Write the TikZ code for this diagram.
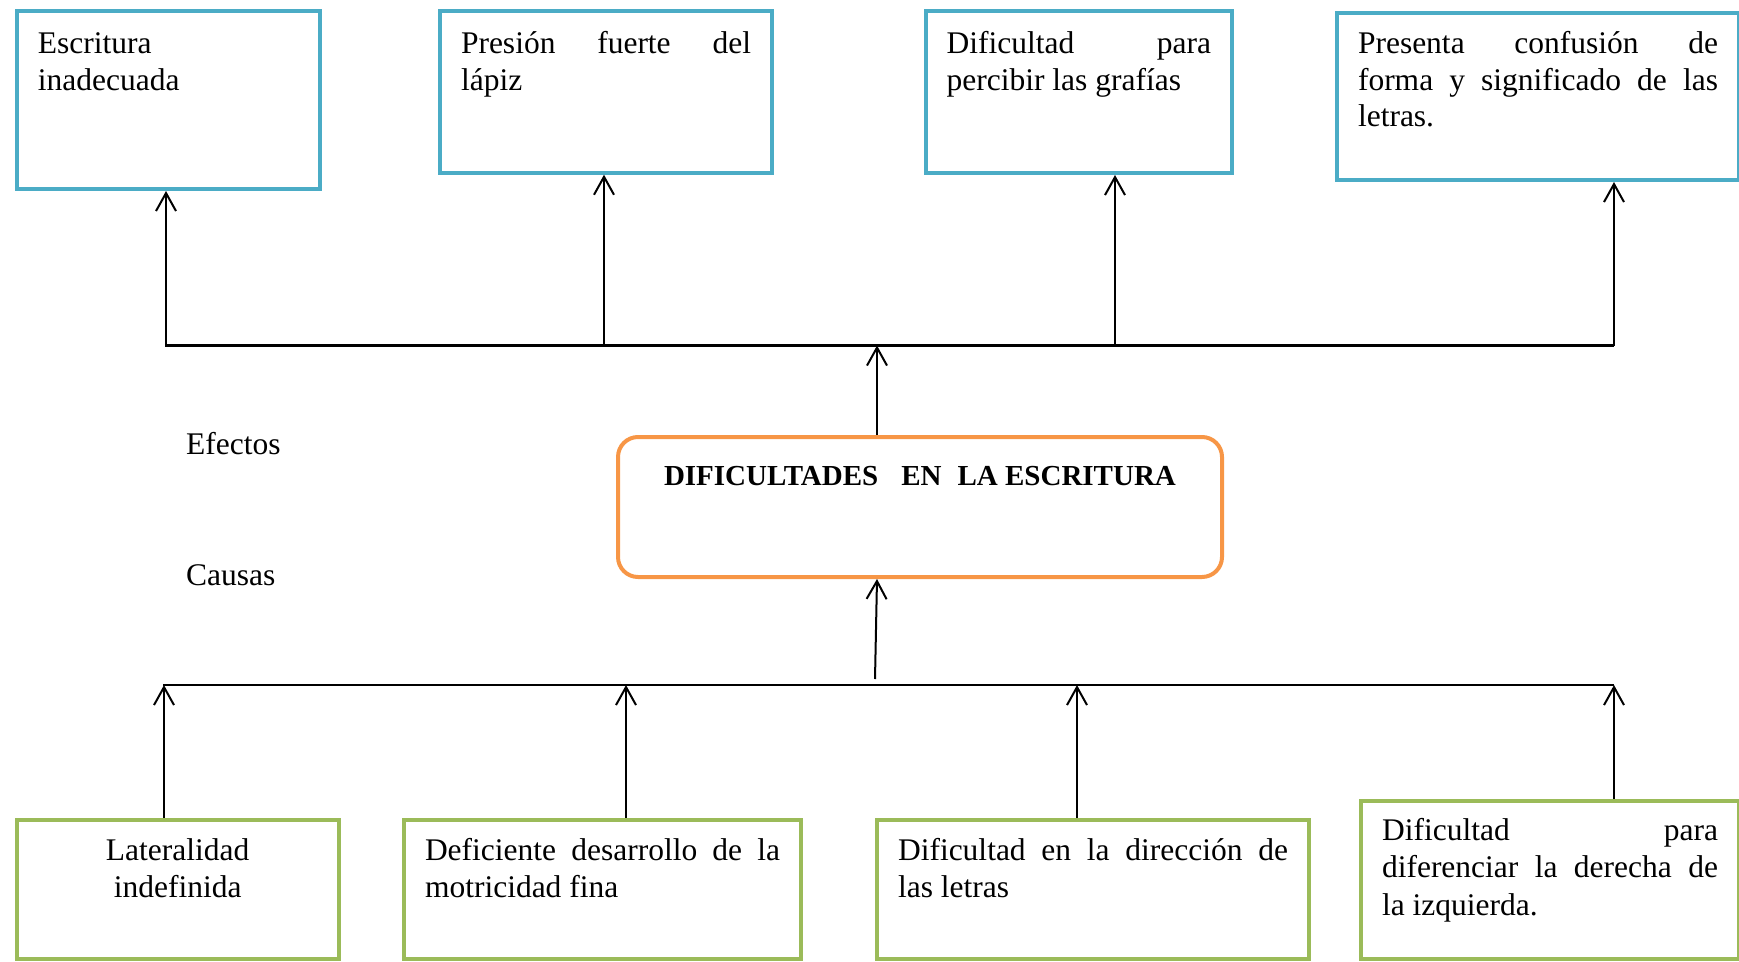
\documentclass[tikz,border=0pt]{standalone}
\usepackage{fontspec}
\setmainfont{Liberation Serif}
\usetikzlibrary{arrows.meta}
\definecolor{boxblue}{HTML}{4BACC6}
\definecolor{boxorange}{HTML}{F79646}
\definecolor{boxgreen}{HTML}{9BBB59}
\newcommand\toptext[3]{\parbox[t][#2pt][t]{#1pt}{\fontsize{31.5}{36.5}\selectfont\strut #3}}
\newcommand\bottext[3]{\parbox[t][#2pt][t]{#1pt}{\fontsize{31.5}{37.5}\selectfont\strut #3}}
\begin{document}
\begin{tikzpicture}[x=1pt,y=1pt,
  effbox/.style={draw=boxblue,line width=4pt,anchor=north west,inner xsep=21pt,inner ysep=17pt},
  causebox/.style={draw=boxgreen,line width=4pt,anchor=north west,inner xsep=21pt,inner ysep=14pt},
  mainbox/.style={draw=boxorange,line width=4pt,rounded corners=20pt,anchor=north west,inner xsep=21pt,inner ysep=23.5pt},
  plain/.style={inner sep=0pt,font=\fontsize{31.5}{36.5}\selectfont},
  conn/.style={line width=2.2pt,black},
  arr/.style={line width=2pt,black,-{Straight Barb[length=18pt,width=20pt]}}
]
\useasboundingbox (0,0) rectangle (1739,-961);

% effect boxes
\node[effbox] (e1) at (14.8,-9.3) {\toptext{261.6}{143.7}{Escritura\\ inadecuada}};
\node[effbox] (e2) at (438,-9.3) {\toptext{290}{127.4}{Presión\hfill fuerte\hfill del\\ lápiz}};
\node[effbox] (e3) at (923.6,-9) {\toptext{264.4}{128}{Dificultad\hfill para\\ percibir las grafías}};
\node[effbox,inner ysep=15pt] (e4) at (1335,-11.3) {\toptext{360}{136.7}{Presenta\hfill confusión\hfill de\\ forma\hfill y\hfill significado\hfill de\hfill las\\ letras.}};

% central box
\node[mainbox] (c) at (616,-435) {\parbox[t][93pt][t]{562pt}{\centering\fontsize{29}{35}\selectfont\bfseries\strut DIFICULTADES\hspace{23pt}EN\hspace{16pt}LA ESCRITURA}};

% cause boxes
\node[causebox] (k1) at (14.6,-818) {\bottext{280.1}{111}{\centering Lateralidad\\ indefinida}};
\node[causebox] (k2) at (402,-818) {\bottext{355}{111}{Deficiente\hfill desarrollo\hfill de\hfill la\\ motricidad fina}};
\node[causebox] (k3) at (875,-818) {\bottext{390}{111}{Dificultad\hfill en\hfill la\hfill dirección\hfill de\\ las letras}};
\node[causebox,inner ysep=13pt] (k4) at (1359,-799) {\bottext{336}{132}{Dificultad\hfill para\\ diferenciar\hfill la\hfill derecha\hfill de\\ la izquierda.}};

% side labels
\node[plain,anchor=base west] (ef) at (186,-454) {Efectos};
\node[plain,anchor=base west] (ca) at (186,-585) {Causas};

% top connectors
\coordinate (tl) at (165,-345.5);
\coordinate (tr) at (1614,-345.5);
\coordinate (t1) at (166,-345.5);
\coordinate (t2) at (604,-345.5);
\coordinate (t3) at (1115,-345.5);
\coordinate (t4) at (1614,-345.5);
\coordinate (tc) at (877,-345.5);
\draw[conn] (tl) -- (tr);
\draw[arr] (t1) -- (t1 |- e1.south);
\draw[arr] (t2) -- (t2 |- e2.south);
\draw[arr] (t3) -- (t3 |- e3.south);
\draw[arr] (t4) -- (t4 |- e4.south);
\draw[arr] (tc |- c.north) -- (tc);

% bottom connectors
\coordinate (bl) at (163,-685);
\coordinate (br) at (1614,-685);
\coordinate (b1) at (164,-685);
\coordinate (b2) at (626,-685);
\coordinate (b3) at (1077,-685);
\coordinate (b4) at (1614,-685);
\coordinate (bc) at (875,-679);
\coordinate (bcu) at (877,-600);
\draw[conn] (bl) -- (br);
\draw[arr] (b1 |- k1.north) -- (b1);
\draw[arr] (b2 |- k2.north) -- (b2);
\draw[arr] (b3 |- k3.north) -- (b3);
\draw[arr] (b4 |- k4.north) -- (b4);
\draw[arr] (bc) -- (bcu |- c.south);
\end{tikzpicture}
\end{document}
